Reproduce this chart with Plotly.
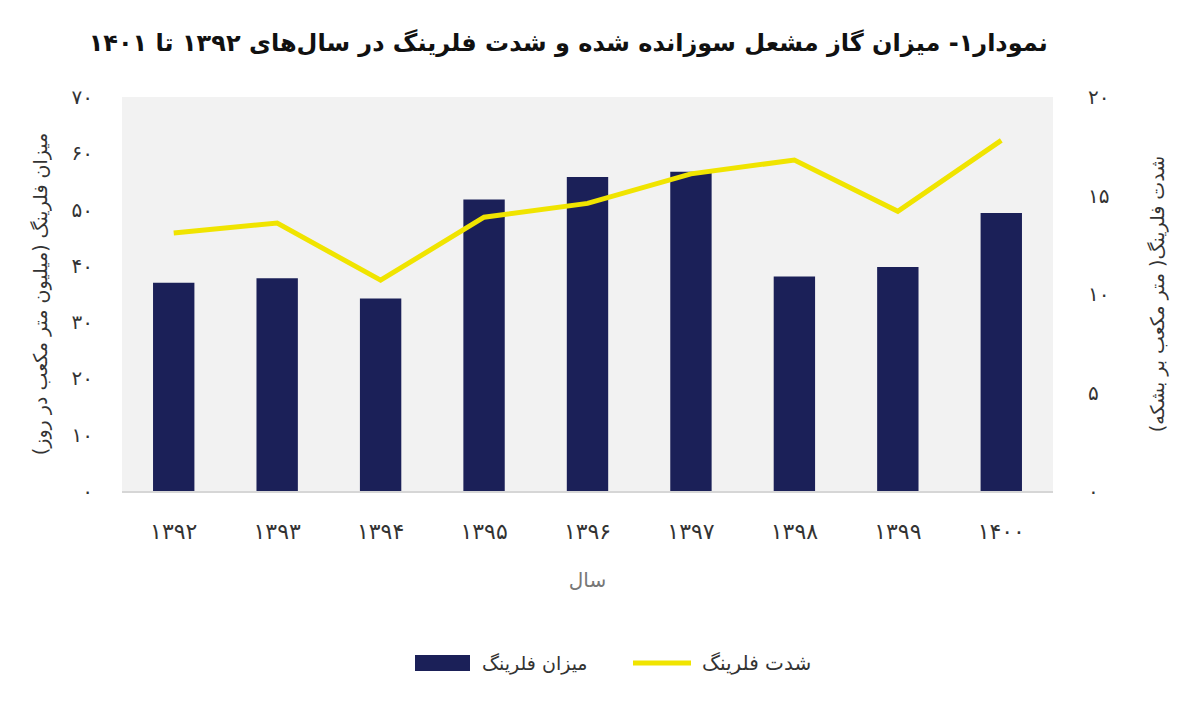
import plotly.graph_objects as go

years = ['۱۳۹۲', '۱۳۹۳', '۱۳۹۴', '۱۳۹۵', '۱۳۹۶', '۱۳۹۷', '۱۳۹۸', '۱۳۹۹', '۱۴۰۰']
flaring_volume = [37.0, 37.8, 34.2, 51.8, 55.8, 56.7, 38.1, 39.8, 49.4]
flaring_intensity = [13.1, 13.6, 10.7, 13.9, 14.6, 16.1, 16.8, 14.2, 17.8]

left_ticks = [0, 10, 20, 30, 40, 50, 60, 70]
left_ticktext = ['۰', '۱۰', '۲۰', '۳۰', '۴۰', '۵۰', '۶۰', '۷۰']
right_ticks = [0, 5, 10, 15, 20]
right_ticktext = ['۰', '۵', '۱۰', '۱۵', '۲۰']

title_text = 'نمودار۱- میزان گاز مشعل سوزانده شده و شدت فلرینگ در سال‌های ۱۳۹۲ تا ۱۴۰۱'
bar_name = 'میزان فلرینگ'
line_name = 'شدت فلرینگ'
left_title = 'میزان فلرینگ (میلیون متر مکعب در روز)'
right_title = 'شدت فلرینگ( متر مکعب بر بشکه)'
x_title = 'سال'

FONT = 'DejaVu Sans'
BAR_COLOR = '#1b2058'
LINE_COLOR = '#f0e400'

# page body has an 8px margin; figure is sized so the visible page is 1200x708
W, H = 1192, 700
ML, MR, MT, MB = 114, 147, 89, 217
PW = W - ML - MR
PH = H - MT - MB


def px_x(x):
    return (x - ML) / PW


def px_y(y):
    return (H - MB - y) / PH


fig = go.Figure()
fig.add_trace(go.Bar(
    x=years, y=flaring_volume, name=bar_name,
    marker=dict(color=BAR_COLOR, line=dict(width=0)),
    yaxis='y', showlegend=False
))
fig.add_trace(go.Scatter(
    x=years, y=flaring_intensity, name=line_name, mode='lines',
    line=dict(color=LINE_COLOR, width=5),
    yaxis='y2', showlegend=False
))

# legend keys (drawn in paper coordinates, below the plot)
ly = 655  # figure-pixel y of legend row centre
fig.add_shape(type='rect', xref='paper', yref='paper',
              x0=px_x(407), x1=px_x(462), y0=px_y(ly - 8), y1=px_y(ly + 8),
              fillcolor=BAR_COLOR, line=dict(width=0))
fig.add_annotation(text=bar_name, xref='paper', yref='paper',
                   x=px_x(472), y=px_y(ly), xanchor='left', yanchor='middle',
                   showarrow=False, font=dict(size=19, color='#333333'))
fig.add_shape(type='line', xref='paper', yref='paper',
              x0=px_x(625), x1=px_x(683), y0=px_y(ly), y1=px_y(ly),
              line=dict(color=LINE_COLOR, width=5))
fig.add_annotation(text=line_name, xref='paper', yref='paper',
                   x=px_x(692), y=px_y(ly), xanchor='left', yanchor='middle',
                   showarrow=False, font=dict(size=20, color='#333333'))

fig.update_layout(
    width=W, height=H,
    margin=dict(l=ML, r=MR, t=MT, b=MB),
    paper_bgcolor='white',
    plot_bgcolor='#f2f2f2',
    bargap=0.6,
    font=dict(family=FONT, color='#333333'),
    title=dict(text=title_text, x=0.47, xanchor='center', y=0.95, yanchor='middle',
               font=dict(family=FONT, size=24, color='#111111', weight='bold')),
    xaxis=dict(
        type='category', showgrid=False, zeroline=False,
        showline=True, linecolor='#d6d6d6', linewidth=1.5,
        ticks='', tickfont=dict(size=22, color='#333333'),
        ticklabelstandoff=20,
        title=dict(text=x_title, font=dict(size=20, color='#777777'), standoff=30),
    ),
    yaxis=dict(
        range=[0, 70], tickvals=left_ticks, ticktext=left_ticktext,
        showgrid=False, zeroline=False, showline=False, ticks='',
        tickfont=dict(size=20, color='#333333'), ticklabelstandoff=28,
        title=dict(text=left_title, font=dict(size=19, color='#333333'), standoff=18),
    ),
    yaxis2=dict(
        range=[0, 20], tickvals=right_ticks, ticktext=right_ticktext,
        overlaying='y', side='right',
        showgrid=False, zeroline=False, showline=False, ticks='',
        tickfont=dict(size=20, color='#333333'), ticklabelstandoff=34,
        title=dict(text=right_title, font=dict(size=19, color='#333333'), standoff=42),
    ),
    showlegend=False,
)

fig.write_html('out.html')
